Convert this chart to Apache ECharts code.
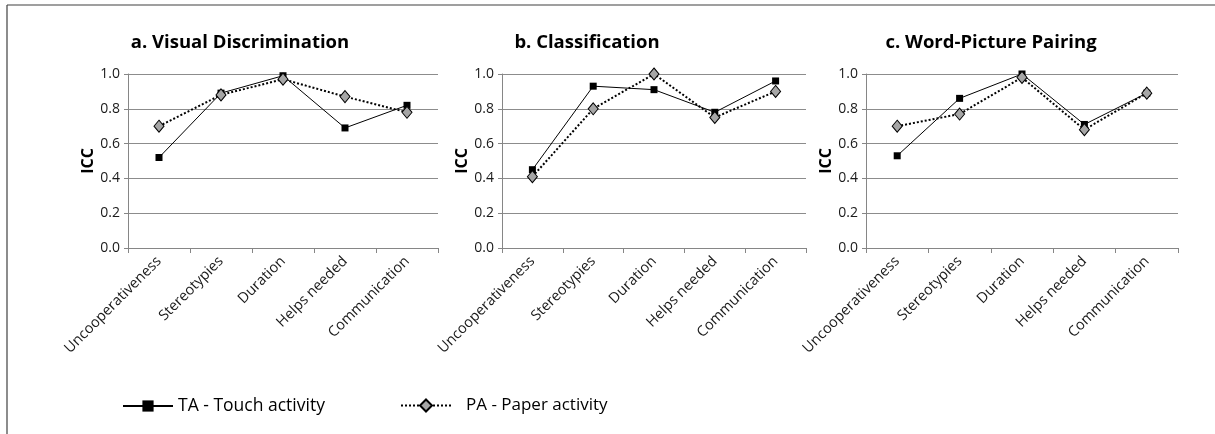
<!DOCTYPE html>
<html>
<head>
<meta charset="utf-8">
<script src="https://cdn.jsdelivr.net/npm/echarts@6/dist/echarts.min.js"></script>
<style>
html,body{margin:0;padding:0;background:#fff;}
#c{width:1215px;height:434px;}
</style>
</head>
<body>
<div id="c"></div>
<script>
const categories = ['Uncooperativeness', 'Stereotypies', 'Duration', 'Helps needed', 'Communication'];
const panelTitles = ['a. Visual Discrimination', 'b. Classification', 'c. Word-Picture Pairing'];
const taVisual = [0.52, 0.89, 0.99, 0.69, 0.82];
const paVisual = [0.70, 0.88, 0.97, 0.87, 0.78];
const taClass = [0.45, 0.93, 0.91, 0.78, 0.96];
const paClass = [0.41, 0.80, 1.00, 0.75, 0.90];
const taWord = [0.53, 0.86, 1.00, 0.71, 0.89];
const paWord = [0.70, 0.77, 0.98, 0.68, 0.89];
const yMin = 0, yMax = 1, yStep = 0.2;
const seriesNames = ['TA - Touch activity', 'PA - Paper activity'];

const FONT = '"Open Sans", "Noto Sans", sans-serif';
const grids = [
  {left: 128, top: 74, width: 310, height: 174},
  {left: 502, top: 74, width: 304, height: 174},
  {left: 866, top: 74, width: 312, height: 174}
];
const taData = [taVisual, taClass, taWord];
const paData = [paVisual, paClass, paWord];

const chart = echarts.init(document.getElementById('c'), null, {renderer: 'canvas'});

const xAxes = grids.map((g, i) => ({
  type: 'category', gridIndex: i, data: categories, boundaryGap: true,
  axisLine: {lineStyle: {color: '#868686', width: 1}},
  axisTick: {show: true, length: 5, lineStyle: {color: '#868686'}},
  axisLabel: {rotate: 45, fontSize: 14.5, color: '#1a1a1a', fontFamily: FONT, margin: 11, interval: 0}
}));
const yAxes = grids.map((g, i) => ({
  type: 'value', gridIndex: i, min: yMin, max: yMax, interval: yStep,
  name: 'ICC', nameLocation: 'middle', nameGap: 31,
  nameTextStyle: {fontSize: 16, fontWeight: 'bold', color: '#000', fontFamily: FONT},
  axisLine: {show: true, lineStyle: {color: '#868686'}},
  axisTick: {show: true, length: 4, lineStyle: {color: '#868686'}},
  splitLine: {show: true, lineStyle: {color: '#8c8c8c', width: 1}},
  axisLabel: {fontSize: 14, color: '#1a1a1a', fontFamily: FONT, margin: 8,
    formatter: v => v.toFixed(1)}
}));

const series = [];
grids.forEach((g, i) => {
  series.push({
    name: seriesNames[0], type: 'line', xAxisIndex: i, yAxisIndex: i,
    data: taData[i], symbol: 'rect', symbolSize: 7,
    lineStyle: {color: '#000', width: 1, type: 'solid'},
    itemStyle: {color: '#000'}, z: 3
  });
  series.push({
    name: seriesNames[1], type: 'line', xAxisIndex: i, yAxisIndex: i,
    data: paData[i], symbol: 'diamond', symbolSize: [10, 12],
    lineStyle: {color: '#000', width: 2, type: 'dotted'},
    itemStyle: {color: '#a6a6a6', borderColor: '#000', borderWidth: 1}, z: 4
  });
});

const titleCenters = [240, 587, 991];
const option = {
  animation: false,
  backgroundColor: '#fff',
  title: panelTitles.map((t, i) => ({
    text: t, left: titleCenters[i], top: 33, textAlign: 'center', padding: 0,
    textStyle: {fontSize: 18.5, fontWeight: 'bold', color: '#000', fontFamily: FONT}
  })),
  grid: grids,
  xAxis: xAxes,
  yAxis: yAxes,
  legend: [
    {data: [seriesNames[0]], left: 122, top: 397, padding: 0, itemWidth: 50, itemHeight: 14, itemGap: 0,
      textStyle: {fontSize: 17.5, color: '#000', fontFamily: FONT}},
    {data: [seriesNames[1]], left: 400, top: 397, padding: 0, itemWidth: 50, itemHeight: 15, itemGap: 0,
      textStyle: {fontSize: 17, color: '#000', fontFamily: FONT, padding: [0, 0, 0, 10]}}
  ],
  graphic: [
    {type: 'line', shape: {x1: 7, y1: 5, x2: 1215, y2: 5}, style: {stroke: '#404040', lineWidth: 1.2}},
    {type: 'line', shape: {x1: 7, y1: 5, x2: 7, y2: 434}, style: {stroke: '#404040', lineWidth: 1.2}}
  ],
  series: series
};
chart.setOption(option);
</script>
</body>
</html>
